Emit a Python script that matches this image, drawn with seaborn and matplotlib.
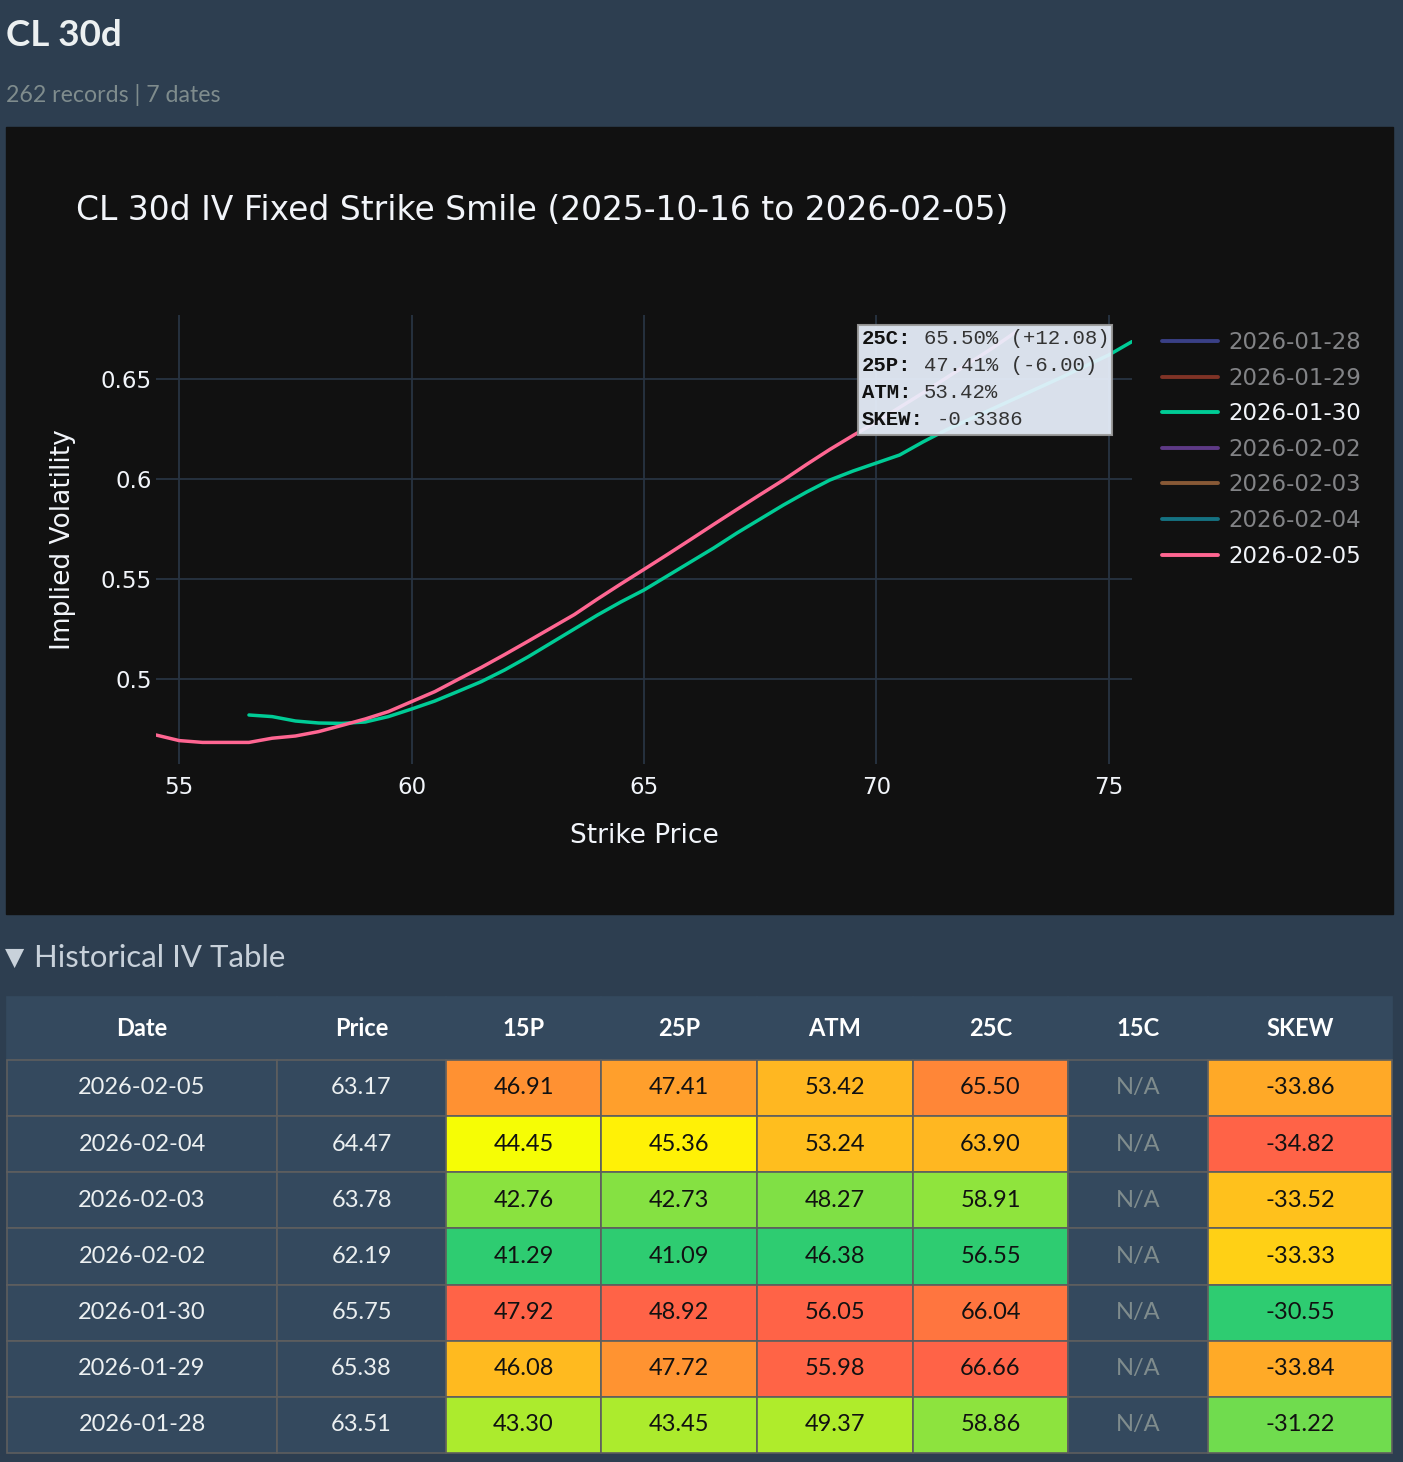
import numpy as np
import matplotlib
matplotlib.use('Agg')
import matplotlib.pyplot as plt
import matplotlib.colors as mcolors
from matplotlib.lines import Line2D
from matplotlib.patches import Rectangle
import pandas as pd
import seaborn as sns

# smile curves (only the two visible dates)
strikes_0205 = [54.5, 55.0, 55.5, 56.0, 56.5, 57.0, 57.5, 58.0, 58.5, 59.0,
                59.5, 60.0, 60.5, 61.0, 61.5, 62.0, 62.5, 63.0, 63.5, 64.0,
                64.5, 65.0, 65.5, 66.0, 66.5, 67.0, 67.5, 68.0, 68.5, 69.0,
                69.5, 70.0, 70.5, 71.0, 71.5, 72.0, 72.5, 73.0]
iv_0205 = [0.4720, 0.4692, 0.4683, 0.4683, 0.4683, 0.4704, 0.4715, 0.4737,
           0.4768, 0.4800, 0.4837, 0.4887, 0.4937, 0.4998, 0.5058, 0.5122,
           0.5188, 0.5255, 0.5322, 0.5400, 0.5475, 0.5548, 0.5622, 0.5697,
           0.5773, 0.5848, 0.5922, 0.5995, 0.6073, 0.6148, 0.6218, 0.6285,
           0.6358, 0.6430, 0.6505, 0.6580, 0.6655, 0.6735]
strikes_0130 = [56.5, 57.0, 57.5, 58.0, 58.5, 59.0, 59.5, 60.0, 60.5, 61.0,
                61.5, 62.0, 62.5, 63.0, 63.5, 64.0, 64.5, 65.0, 65.5, 66.0,
                66.5, 67.0, 67.5, 68.0, 68.5, 69.0, 69.5, 70.0, 70.5, 71.0,
                71.5, 72.0, 72.5, 73.0, 73.5, 74.0, 74.5, 75.0, 75.5]
iv_0130 = [0.4820, 0.4812, 0.4790, 0.4780, 0.4778, 0.4785, 0.4812, 0.4850,
           0.4890, 0.4938, 0.4987, 0.5045, 0.5110, 0.5180, 0.5250, 0.5320,
           0.5385, 0.5445, 0.5515, 0.5585, 0.5655, 0.5730, 0.5800, 0.5870,
           0.5935, 0.5995, 0.6040, 0.6080, 0.6120, 0.6185, 0.6245, 0.6298,
           0.6351, 0.6404, 0.6457, 0.6510, 0.6565, 0.6620, 0.6687]

legend_dates = ['2026-01-28', '2026-01-29', '2026-01-30', '2026-02-02',
                '2026-02-03', '2026-02-04', '2026-02-05']
legend_colors = ['#636efa', '#EF553B', '#00cc96', '#ab63fa',
                 '#FFA15A', '#19d3f3', '#FF6692']
visible_dates = ['2026-01-30', '2026-02-05']

tooltip_keys = ['25C:', '25P:', 'ATM:', 'SKEW:']
tooltip_vals = ['65.50% (+12.08)', '47.41% (-6.00)', '53.42%', '-0.3386']

# table
table_cols = ['Date', 'Price', '15P', '25P', 'ATM', '25C', '15C', 'SKEW']
t_dates = ['2026-02-05', '2026-02-04', '2026-02-03', '2026-02-02',
           '2026-01-30', '2026-01-29', '2026-01-28']
t_price = [63.17, 64.47, 63.78, 62.19, 65.75, 65.38, 63.51]
t_15p = [46.91, 44.45, 42.76, 41.29, 47.92, 46.08, 43.30]
t_25p = [47.41, 45.36, 42.73, 41.09, 48.92, 47.72, 43.45]
t_atm = [53.42, 53.24, 48.27, 46.38, 56.05, 55.98, 49.37]
t_25c = [65.50, 63.90, 58.91, 56.55, 66.04, 66.66, 58.86]
t_skew = [-33.86, -34.82, -33.52, -33.33, -30.55, -33.84, -31.22]

W, H = 1403, 1462
PAGE = '#2d3e50'
CELL = '#34495e'
CHART_BG = '#111111'

sns.set_theme(style='dark')
plt.rcParams['font.family'] = ['DejaVu Sans']


def fx(x):
    return x / W


def fy(y):
    return 1 - y / H


def dim(c, a=0.5):
    r = np.array(mcolors.to_rgb(c)) * a + np.array(mcolors.to_rgb(CHART_BG)) * (1 - a)
    return mcolors.to_hex(r)


fig = plt.figure(figsize=(W / 100, H / 100), dpi=100)
fig.patch.set_facecolor(PAGE)

ui = ['Lato', 'DejaVu Sans']
fig.text(fx(6), fy(35), 'CL 30d', family=ui, weight='bold', fontsize=26.5,
         color='#ecf0f1', va='center')
fig.text(fx(6), fy(95), '262 records | 7 dates', family=ui, fontsize=16.7,
         color='#7f8c8d', va='center')

fig.add_artist(Rectangle((fx(6), fy(914)), (1393 - 6) / W, (914 - 127) / H,
                         transform=fig.transFigure, color=CHART_BG, zorder=-5))

fig.text(fx(76), fy(210), 'CL 30d IV Fixed Strike Smile (2025-10-16 to 2026-02-05)',
         fontsize=23.7, color='#f2f5fa', va='center')

ax = fig.add_axes([fx(156), fy(764), (1132 - 156) / W, (764 - 315) / H])
ax.set_facecolor(CHART_BG)

df = pd.concat([
    pd.DataFrame({'strike': strikes_0130, 'iv': iv_0130, 'date': '2026-01-30'}),
    pd.DataFrame({'strike': strikes_0205, 'iv': iv_0205, 'date': '2026-02-05'}),
])
pal = dict(zip(legend_dates, legend_colors))
sns.lineplot(data=df, x='strike', y='iv', hue='date', palette=pal,
             linewidth=2.5, legend=False, ax=ax, sort=False)

ax.set_xlim(df['strike'].min(), df['strike'].max())
ax.set_ylim(0.4575, 0.682)
ax.set_xticks([55, 60, 65, 70, 75])
ax.set_yticks([0.5, 0.55, 0.6, 0.65])
ax.set_yticklabels(['0.5', '0.55', '0.6', '0.65'])
ax.grid(True, color='#283442', linewidth=1.3)
ax.tick_params(colors='#f2f5fa', labelsize=16.5, length=0)
ax.tick_params(axis='x', pad=9)
ax.tick_params(axis='y', pad=3)
for s in ax.spines.values():
    s.set_visible(False)
ax.set_xlabel('Strike Price', fontsize=19, color='#f2f5fa', labelpad=17)
ax.set_ylabel('Implied Volatility', fontsize=19, color='#f2f5fa', labelpad=18)

# legend with hidden traces dimmed
handles, lcolors = [], []
for d, c in zip(legend_dates, legend_colors):
    on = d in visible_dates
    handles.append(Line2D([], [], color=c if on else dim(c), linewidth=2.8))
    lcolors.append('#f2f5fa' if on else dim('#f2f5fa'))
leg = ax.legend(handles, legend_dates, loc='upper left',
                bbox_to_anchor=(fx(1162), fy(331)), bbox_transform=fig.transFigure,
                frameon=False, fontsize=16.5, handlelength=2.45, handletextpad=0.44,
                labelspacing=0.55, borderpad=0, borderaxespad=0, labelcolor=lcolors)

# hover box
fig.add_artist(Rectangle((fx(858), fy(435)), (1112 - 858) / W, (435 - 325) / H,
                         transform=fig.transFigure, facecolor='#e9f1fd', alpha=0.93,
                         edgecolor='#9a9a9a', linewidth=1.5, zorder=5))
mono = 'Liberation Mono'
msize = 14.85
cw = 0.6 * msize * 100 / 72
for i, (k, v) in enumerate(zip(tooltip_keys, tooltip_vals)):
    yy = fy(339 + i * 26.7)
    fig.text(fx(862), yy, k, family=mono, weight='bold', fontsize=msize,
             color='#111111', va='center', zorder=6)
    fig.text(fx(862 + (len(k) + 1) * cw), yy, v, family=mono, fontsize=msize,
             color='#333333', va='center', zorder=6)

fig.text(fx(5), fy(958), '\u25BC', family=['DejaVu Sans'], fontsize=18,
         color='#c8d1da', va='center')
fig.text(fx(34), fy(958), 'Historical IV Table', family=ui, fontsize=22.4,
         color='#c8d1da', va='center')

# table colours
cmap = mcolors.LinearSegmentedColormap.from_list('iv', ['#2ecc71', '#ffff00', '#ff6347'])


def col_colors(vals, reverse=False):
    v = np.array(vals, dtype=float)
    n = (v - v.min()) / (v.max() - v.min())
    if reverse:
        n = 1 - n
    return [mcolors.to_hex(cmap(x)) for x in n]


c15p, c25p, catm, c25c = (col_colors(t_15p), col_colors(t_25p),
                          col_colors(t_atm), col_colors(t_25c))
cskew = col_colors(t_skew, reverse=True)

cell_text, cell_col = [], []
for i in range(len(t_dates)):
    cell_text.append([t_dates[i], f'{t_price[i]:.2f}', f'{t_15p[i]:.2f}',
                      f'{t_25p[i]:.2f}', f'{t_atm[i]:.2f}', f'{t_25c[i]:.2f}',
                      'N/A', f'{t_skew[i]:.2f}'])
    cell_col.append([CELL, CELL, c15p[i], c25p[i], catm[i], c25c[i], CELL, cskew[i]])

tax = fig.add_axes([fx(7), fy(1453), (1392 - 7) / W, (1453 - 997) / H])
tax.axis('off')
widths = [270, 169, 155, 156, 156, 155, 140, 184]
widths = [w / sum(widths) for w in widths]
tbl = tax.table(cellText=cell_text, colLabels=table_cols, cellColours=cell_col,
                colColours=[CELL] * 8, colWidths=widths, cellLoc='center',
                bbox=[0, 0, 1, 1])
tbl.auto_set_font_size(False)
for (r, c), cell in tbl.get_celld().items():
    cell.set_linewidth(1.2)
    txt = cell.get_text()
    txt.set_fontfamily(ui)
    txt.set_fontsize(17)
    if r == 0:
        cell.set_height(63)
        cell.set_edgecolor(CELL)
        cell.set_zorder(0)
        txt.set_color('#ffffff')
        txt.set_fontweight('bold')
    else:
        cell.set_height(56.3)
        cell.set_edgecolor('#5e5e5e')
        cell.set_zorder(1)
        if c in (0, 1):
            txt.set_color('#ecf0f1')
        elif c == 6:
            txt.set_color('#7f8c8d')
        else:
            txt.set_color('#111111')

fig.savefig('out.png', dpi=100, facecolor=PAGE)
